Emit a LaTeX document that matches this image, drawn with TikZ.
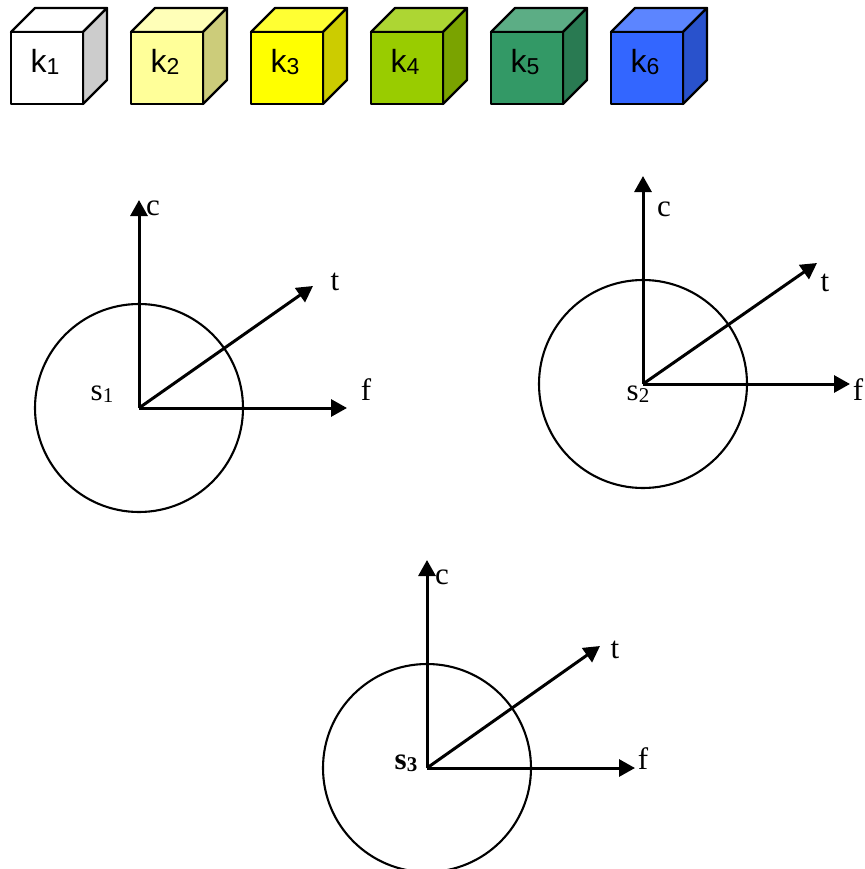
\documentclass[tikz,border=0pt]{standalone}
\usepackage{fontspec}
\setmainfont{Liberation Serif}
\newfontfamily\cubefont{Liberation Sans}
\usetikzlibrary{arrows.meta}
\tikzset{
  axisline/.style={line width=3pt,-{Triangle[length=16pt,width=17pt]}},
  ring/.style={draw,circle,line width=2.1pt,minimum size=208pt,inner sep=0pt,outer sep=0pt},
  serlabel/.style={font=\fontsize{31}{33}\selectfont,inner sep=0pt},
  cubelabel/.style={font=\cubefont\fontsize{32}{34}\selectfont,inner sep=0pt,anchor=base},
  cubeface/.style={draw=black,line width=2.3pt,line join=round}
}
\newcommand{\subtxt}[1]{\raisebox{-2pt}{\fontsize{21}{23}\selectfont #1}}
\newcommand{\cubesub}[1]{\raisebox{-2pt}{\fontsize{23}{25}\selectfont #1}}
\newcommand{\cube}[5]{% x, front, top, side, index
  \begin{scope}[shift={(#1,0)}]
    \draw[cubeface,fill=#3] (11,32) -- (35,8) -- (107,8) -- (83,32) -- cycle;
    \draw[cubeface,fill=#4] (83,32) -- (107,8) -- (107,80) -- (83,104) -- cycle;
    \draw[cubeface,fill=#2] (11,32) rectangle (83,104);
    \node[cubelabel] (k#5) at (45,73) {k\cubesub{#5}};
  \end{scope}}
\definecolor{fa}{HTML}{FFFFFF}\definecolor{ta}{HTML}{FFFFFF}\definecolor{sa}{HTML}{CCCCCC}
\definecolor{fb}{HTML}{FFFF99}\definecolor{tb}{HTML}{FFFFB8}\definecolor{sb}{HTML}{CCCC7A}
\definecolor{fc}{HTML}{FFFF00}\definecolor{tc}{HTML}{FFFF33}\definecolor{sc}{HTML}{CCCC00}
\definecolor{fd}{HTML}{99CC00}\definecolor{td}{HTML}{ADD633}\definecolor{sd}{HTML}{7AA300}
\definecolor{fe}{HTML}{339966}\definecolor{te}{HTML}{5CAD85}\definecolor{se}{HTML}{297A52}
\definecolor{ff}{HTML}{3366FF}\definecolor{tf}{HTML}{5C85FF}\definecolor{sf}{HTML}{2952CC}
\begin{document}
\begin{tikzpicture}[x=1pt,y=-1pt]
\useasboundingbox (0,0) rectangle (864,869);
\clip (0,0) rectangle (864,869);
\cube{0}{fa}{ta}{sa}{1}
\cube{120}{fb}{tb}{sb}{2}
\cube{240}{fc}{tc}{sc}{3}
\cube{360}{fd}{td}{sd}{4}
\cube{480}{fe}{te}{se}{5}
\cube{600}{ff}{tf}{sf}{6}
% first system
\coordinate (o1) at (139,408);
\coordinate (c1) at (139,200);
\coordinate (t1) at (313,286);
\coordinate (f1) at (347,408);
\node[ring] (r1) at (o1) {};
\draw[axisline] (o1) -- (c1);
\draw[axisline] (o1) -- (t1);
\draw[axisline] (o1) -- (f1);
\node[serlabel,anchor=base] (lc1) at (153,215) {c};
\node[serlabel,anchor=base] (lt1) at (335,290) {t};
\node[serlabel,anchor=base] (lf1) at (366,400) {f};
\node[serlabel,anchor=base] (ls1) at (102,400) {s\subtxt{1}};
% second system
\coordinate (o2) at (643,384);
\coordinate (c2) at (643,176);
\coordinate (t2) at (817,263);
\coordinate (f2) at (850,384);
\node[ring] (r2) at (o2) {};
\draw[axisline] (o2) -- (c2);
\draw[axisline] (o2) -- (t2);
\draw[axisline] (o2) -- (f2);
\node[serlabel,anchor=base] (lc2) at (664,216) {c};
\node[serlabel,anchor=base] (lt2) at (825,291) {t};
\node[serlabel,anchor=base] (lf2) at (858,400) {f};
\node[serlabel,anchor=base] (ls2) at (638,400) {s\subtxt{2}};
% third system
\coordinate (o3) at (427,768);
\coordinate (c3) at (427,560);
\coordinate (t3) at (600,646);
\coordinate (f3) at (635,768);
\node[ring] (r3) at (o3) {};
\draw[axisline] (o3) -- (c3);
\draw[axisline] (o3) -- (t3);
\draw[axisline] (o3) -- (f3);
\node[serlabel,anchor=base] (lc3) at (442,584) {c};
\node[serlabel,anchor=base] (lt3) at (615,658) {t};
\node[serlabel,anchor=base] (lf3) at (643,769) {f};
\node[serlabel,anchor=base] (ls3) at (406,769) {\bfseries s\subtxt{3}};
\end{tikzpicture}
\end{document}
